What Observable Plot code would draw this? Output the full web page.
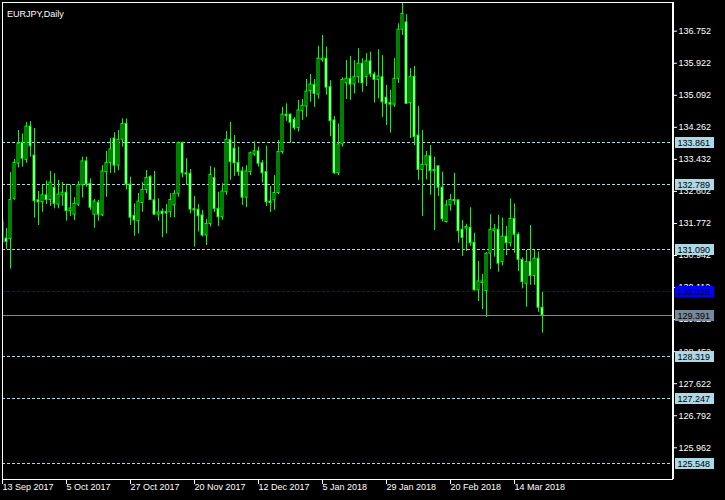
<!DOCTYPE html>
<html><head><meta charset="utf-8">
<script src="https://cdn.jsdelivr.net/npm/d3@7"></script>
<script src="https://cdn.jsdelivr.net/npm/@observablehq/plot@0.6"></script>
<style>
html,body{margin:0;padding:0;background:#000;}
#chart{width:725px;height:500px;}
</style></head><body><div id="chart"></div>
<script>
const symbolTitle = "EURJPY,Daily";
const open = [131.82,131.38,131.37,132.41,133.32,133.86,133.42,134.28,133.53,132.37,132.32,132.50,132.38,132.70,132.26,132.50,132.57,132.09,132.00,132.26,
132.76,133.38,132.80,132.00,132.31,131.98,133.10,133.34,133.97,133.27,133.94,134.35,132.78,131.97,131.83,132.30,132.64,132.97,132.37,132.00,
132.08,132.07,132.06,132.24,132.54,133.85,133.07,133.06,132.14,132.13,131.98,131.46,131.76,132.95,132.15,131.93,132.58,133.94,133.71,133.34,
133.12,132.44,133.10,133.56,133.64,133.33,133.10,132.34,132.37,132.56,133.62,134.59,134.59,134.46,134.24,134.68,134.80,135.20,135.36,135.11,
136.00,136.04,135.30,134.44,133.07,133.82,135.40,135.52,135.37,135.56,135.91,135.56,135.97,135.63,135.49,135.56,135.03,134.89,134.85,135.52,
136.79,136.98,134.89,135.57,134.05,133.16,133.29,133.51,133.16,133.25,132.70,131.81,132.24,132.38,132.37,131.61,131.64,131.66,131.27,130.04,
130.23,130.02,130.99,131.57,131.61,130.77,131.43,131.26,131.89,131.48,130.83,130.21,130.77,130.41,130.86,129.59];
const high = [131.90,131.64,133.09,133.43,134.18,134.09,134.39,134.41,134.23,132.60,132.76,132.87,133.12,133.06,132.89,132.83,132.79,132.77,132.44,132.86,
133.49,133.49,132.93,132.39,132.37,133.27,133.64,133.97,134.12,134.18,134.48,134.48,132.97,132.28,132.55,132.83,133.14,133.01,133.12,132.41,
132.15,132.26,132.54,132.63,133.88,133.88,133.45,133.17,132.47,132.26,132.11,131.88,133.25,133.21,132.58,132.80,134.15,134.39,134.05,133.75,
133.23,133.27,133.62,133.89,133.75,133.40,133.77,132.73,133.01,133.92,134.78,134.87,134.61,134.52,134.96,134.98,135.50,135.63,135.50,136.36,
136.64,136.34,135.47,134.54,134.35,135.54,135.99,136.10,135.99,136.30,136.04,136.17,136.21,135.69,136.27,136.12,135.35,135.22,136.04,136.94,
137.48,137.18,135.78,135.84,134.80,134.18,133.64,133.79,133.49,133.27,133.10,132.37,132.52,133.07,132.38,131.85,131.75,132.18,131.52,130.79,
130.45,131.01,132.00,131.75,131.98,131.91,131.69,132.41,132.28,131.53,130.88,131.07,131.72,131.07,131.03,129.99];
const low = [131.20,131.10,130.59,132.37,133.21,133.23,133.33,133.49,131.91,131.72,132.06,132.26,132.21,132.15,132.15,132.22,131.83,131.95,131.85,132.21,
132.43,132.71,132.11,131.65,131.83,131.95,132.45,133.07,133.07,133.14,133.75,132.64,131.72,131.44,131.50,132.06,132.54,132.37,131.98,131.83,
131.40,131.50,131.92,131.92,132.45,132.95,132.76,132.02,131.16,131.55,131.42,131.20,131.68,132.06,131.69,131.85,132.50,132.89,132.99,132.99,
132.24,132.18,133.01,133.51,133.23,132.82,132.21,132.06,132.11,132.52,133.56,134.42,133.85,134.18,134.14,134.44,134.52,134.91,134.78,134.99,
135.95,135.09,134.02,133.04,133.01,133.75,134.98,134.96,135.13,135.40,135.17,135.32,135.55,134.89,135.00,134.52,134.31,134.11,134.78,135.40,
136.64,134.85,133.97,133.79,132.89,131.95,132.90,132.50,131.59,132.47,131.81,131.78,132.09,132.24,131.26,130.92,131.05,131.18,130.02,129.75,
129.54,129.34,130.58,130.90,130.51,130.67,130.94,131.16,131.00,130.53,130.08,129.60,130.17,130.17,129.47,128.93];
const close = [131.28,131.29,132.38,133.34,133.84,133.45,134.28,133.77,132.35,132.32,132.50,132.38,132.83,132.28,132.52,132.57,132.09,132.16,132.28,132.76,
133.38,132.78,132.18,132.34,132.00,133.12,133.34,133.69,133.27,133.94,134.35,132.78,131.92,131.85,132.34,132.64,132.95,132.38,132.00,132.06,
132.02,132.03,132.38,132.54,133.85,133.07,133.04,132.13,132.11,131.96,131.46,131.76,133.03,132.15,131.93,132.60,133.94,133.36,133.33,133.10,
132.44,133.12,133.59,133.64,133.32,133.07,132.32,132.30,132.56,133.62,134.59,134.55,134.38,134.24,134.70,134.82,135.19,135.37,135.13,136.04,
136.04,135.29,134.42,133.07,133.82,135.49,135.52,135.37,135.56,135.91,135.40,135.97,135.63,135.49,135.58,134.91,134.87,134.85,135.52,136.79,
137.20,134.87,135.56,134.01,133.16,133.29,133.51,133.13,133.13,132.70,131.88,132.24,132.38,132.35,131.57,131.40,131.68,131.26,130.04,130.27,
130.27,130.99,131.61,131.62,130.73,131.43,131.26,131.89,131.48,130.83,130.25,130.77,130.41,130.86,129.59,129.391];

const xTickBars = [0,16,32,48,64,80,96,112,128];
const xTickLabels = ["13 Sep 2017","5 Oct 2017","27 Oct 2017","20 Nov 2017","12 Dec 2017","5 Jan 2018","29 Jan 2018","20 Feb 2018","14 Mar 2018"];
const yTicks = [125.962,126.792,127.622,128.452,129.282,130.112,130.942,131.772,132.602,133.432,134.262,135.092,135.922,136.752];
const levelLines = [133.861,132.789,131.090,128.319,127.247,125.548];
const blueLevel = 130.018;
const lastPrice = 129.391;

(function () {
const bars = open.map((o,i)=>({i, o, h: high[i], l: low[i], c: close[i], bear: o > close[i]}));
const bearBars = bars.filter(d => d.bear);
const bullBars = bars.filter(d => !d.bear);
const FONT = "'Liberation Sans', Arial, sans-serif";
const GREEN = "#00ff00";

const chart = Plot.plot({
  width: 725, height: 500,
  marginLeft: 2, marginRight: 53, marginTop: 2, marginBottom: 21,
  style: {background: "#000", color: "#fff", fontFamily: FONT, fontSize: "9px"},
  x: {type: "linear", domain: [0, 167.5], axis: null},
  y: {domain: [125.1405, 137.4948], axis: "right", ticks: yTicks, tickFormat: d3.format(".3f"), tickSize: 4, tickPadding: 2, label: null},
  marks: [
    Plot.ruleY(levelLines, {y: d => d, stroke: "#add8e6", strokeDasharray: "3,2", shapeRendering: "crispEdges"}),
    Plot.ruleY([blueLevel], {y: d => d, stroke: "#0000ff", strokeDasharray: "3,2", shapeRendering: "crispEdges"}),
    Plot.ruleY([lastPrice], {y: d => d, stroke: "#778899", shapeRendering: "crispEdges"}),
    Plot.ruleX(bars, {x: "i", y1: "l", y2: "h", stroke: GREEN, strokeWidth: 1, clip: true}),
    Plot.rect(bearBars, {x1: d => d.i - 0.25, x2: d => d.i + 0.25, y1: "o", y2: "c", fill: "#ffffff", stroke: GREEN, strokeWidth: 1, clip: true}),
    Plot.rect(bullBars, {x1: d => d.i - 0.25, x2: d => d.i + 0.25, y1: "o", y2: "c", fill: "#000000", stroke: GREEN, strokeWidth: 1, clip: true}),
    Plot.frame({stroke: "#fff", shapeRendering: "crispEdges"}),
    Plot.ruleX(xTickBars, {x: d => d, stroke: "#fff", insetTop: 477, insetBottom: -5}),
    Plot.text(xTickBars, {x: d => d, text: (d, k) => xTickLabels[k], frameAnchor: "bottom", dy: 10, textAnchor: "start", fill: "#fff"}),
    Plot.text([symbolTitle], {frameAnchor: "top-left", dx: 4.5, dy: 8, textAnchor: "start", fill: "#fff"})
  ]
});
document.getElementById("chart").appendChild(chart);

// price-level tags on the right axis, positioned via Plot's own scales
const ys = chart.scale("y");
const xs = chart.scale("x");
const rightX = xs.apply(xs.domain[1]);
const topY = ys.apply(ys.domain[1]);
const bottomY = ys.apply(ys.domain[0]);
const svg = d3.select(chart);
svg.append("line").attr("x1", rightX + 1.5).attr("x2", rightX + 1.5).attr("y1", topY).attr("y2", bottomY)
  .attr("stroke", "#fff").attr("shape-rendering", "crispEdges");
const tags = levelLines.map(v => ({v, bg: "#add8e6", fg: "#000"}))
  .concat([{v: blueLevel, bg: "#0000ff", fg: "#000"}, {v: lastPrice, bg: "#778899", fg: "#000"}]);
const g = svg.append("g").attr("font-family", FONT).attr("font-size", 9).attr("text-anchor", "start");
tags.forEach(t => {
  const y = Math.round(ys.apply(t.v));
  g.append("rect").attr("x", rightX + 3).attr("y", y - 5).attr("width", 39).attr("height", 11).attr("fill", t.bg);
  g.append("text").attr("x", rightX + 5.5).attr("y", y + 0.5).attr("dominant-baseline", "central")
    .attr("text-anchor", "start").attr("fill", t.fg).text(d3.format(".3f")(t.v));
});
})();
</script></body></html>
